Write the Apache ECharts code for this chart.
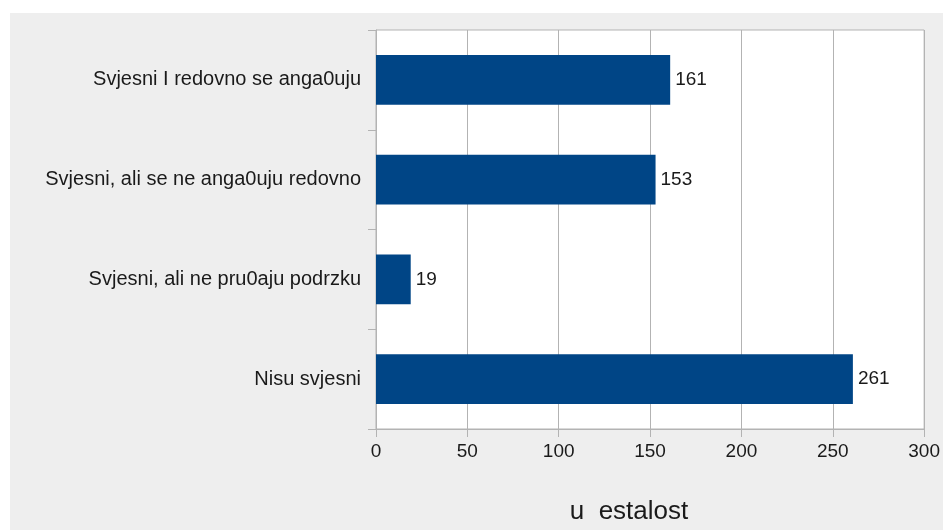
<!DOCTYPE html>
<html>
<head>
<meta charset="utf-8">
<script src="https://cdn.jsdelivr.net/npm/echarts@6/dist/echarts.min.js"></script>
<style>
html,body{margin:0;padding:0;background:#ffffff;width:943px;height:530px;overflow:hidden;}
#chart{position:absolute;left:10px;top:13px;width:933px;height:517px;background:#eeeeee;}
</style>
</head>
<body>
<div id="chart"></div>
<script>
const categories = ['Svjesni I redovno se anga0uju', 'Svjesni, ali se ne anga0uju redovno', 'Svjesni, ali ne pru0aju podrzku', 'Nisu svjesni'];
const values = [161, 153, 19, 261];
const xTicks = [0, 50, 100, 150, 200, 250, 300];
const axisTitle = 'u  estalost';

const chart = echarts.init(document.getElementById('chart'), null, {renderer: 'canvas', width: 933, height: 517});
const font = 'Liberation Sans, Arial, sans-serif';
chart.setOption({
  backgroundColor: '#eeeeee',
  animation: false,
  grid: {
    left: 366, width: 551, top: 17, height: 399,
    show: true, backgroundColor: '#ffffff', borderColor: '#b3b3b3', borderWidth: 1,
    containLabel: false
  },
  title: {
    text: axisTitle,
    left: 614, top: 481,
    textAlign: 'center',
    textStyle: {fontFamily: font, fontSize: 26, fontWeight: 'normal', color: '#1a1a1a'}
  },
  xAxis: {
    type: 'value',
    min: xTicks[0], max: xTicks[xTicks.length - 1], interval: 50,
    axisLine: {show: true, lineStyle: {color: '#b3b3b3'}},
    axisTick: {show: true, length: 8, lineStyle: {color: '#b3b3b3'}},
    splitLine: {show: true, lineStyle: {color: '#b3b3b3'}},
    axisLabel: {fontFamily: font, fontSize: 19, color: '#1a1a1a', margin: 13}
  },
  yAxis: {
    type: 'category',
    data: categories,
    inverse: true,
    axisLine: {show: true, lineStyle: {color: '#b3b3b3'}},
    axisTick: {show: true, length: 8, lineStyle: {color: '#b3b3b3'}},
    axisLabel: {fontFamily: font, fontSize: 20, color: '#1a1a1a', margin: 15}
  },
  series: [{
    type: 'bar',
    data: values,
    barWidth: '50%',
    itemStyle: {color: '#004586'},
    label: {show: true, position: 'right', distance: 5, fontFamily: font, fontSize: 19, color: '#1a1a1a'}
  }]
});
</script>
</body>
</html>
